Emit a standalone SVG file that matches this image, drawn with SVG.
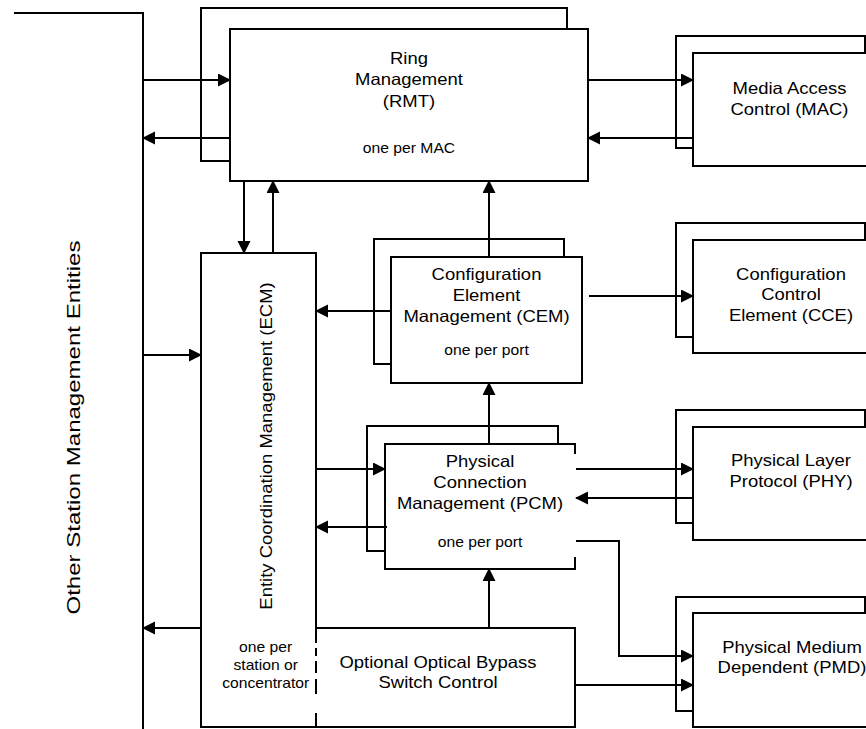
<svg xmlns="http://www.w3.org/2000/svg" width="866" height="729" viewBox="0 0 866 729">
<defs>
<style>
.ln{fill:none;stroke:#000;stroke-width:2}
.bx{fill:#fff;stroke:#000;stroke-width:2}
.wf{fill:#fff;stroke:none}
.t{font-family:"Liberation Sans",Arial,Helvetica,sans-serif;font-size:16.5px;fill:#000;text-anchor:middle}
.s{font-size:14px}
.big{font-size:18.5px}
.ar{fill:none;stroke:#000;stroke-width:2;marker-end:url(#ah)}
</style>
<marker id="ah" markerUnits="userSpaceOnUse" markerWidth="14" markerHeight="14" refX="12" refY="6.5" orient="auto">
<path d="M0,0 L13,6.5 L0,13 z" fill="#000"/>
</marker>
</defs>
<rect width="866" height="729" fill="#fff"/>

<g id="other-entities">
<path class="ln" d="M14 13 H143 V729"/>
<text class="t big" transform="translate(80 427.5) rotate(-90) scale(1.3 1)">Other Station Management Entities</text>
</g>

<g id="rmt">
<rect class="bx" x="201" y="8" width="366" height="153"/>
<rect class="bx" x="230" y="29" width="358" height="152"/>
<text class="t" transform="translate(409 0) scale(1.12 1)"><tspan x="0" y="64">Ring</tspan><tspan x="0" y="85.5">Management</tspan><tspan x="0" y="107">(RMT)</tspan></text>
<text class="t s" transform="translate(409 153) scale(1.12 1)">one per MAC</text>
</g>

<g id="mac">
<rect class="bx" x="676" y="36" width="189" height="112"/>
<rect class="bx" x="693" y="53" width="180" height="113"/>
<text class="t" transform="translate(789.5 0) scale(1.12 1)"><tspan x="0" y="94">Media Access</tspan><tspan x="0" y="115">Control (MAC)</tspan></text>
</g>

<g id="ecm">
<path class="ln" d="M316 643 V253 H201 V727 H316"/>
<path class="ln" d="M316 648 V656 M316 661 V673 M316 679 V694 M316 713 V727"/>
<text class="t" transform="translate(272 446) rotate(-90) scale(1.12 1)">Entity Coordination Management (ECM)</text>
<text class="t s" transform="translate(265.7 0) scale(1.12 1)"><tspan x="0" y="652">one per</tspan><tspan x="0" y="670">station or</tspan><tspan x="0" y="688">concentrator</tspan></text>
</g>

<g id="cem">
<rect class="bx" x="374" y="239" width="190" height="125"/>
<rect class="bx" x="391" y="257" width="191" height="126"/>
<text class="t" transform="translate(486.5 0) scale(1.12 1)"><tspan x="0" y="280">Configuration</tspan><tspan x="0" y="301">Element</tspan><tspan x="0" y="322">Management (CEM)</tspan></text>
<text class="t s" transform="translate(486.5 355) scale(1.12 1)">one per port</text>
</g>

<g id="cce">
<rect class="bx" x="676" y="223" width="189" height="114"/>
<rect class="bx" x="693" y="240" width="180" height="113"/>
<text class="t" transform="translate(791 0) scale(1.12 1)"><tspan x="0" y="280">Configuration</tspan><tspan x="0" y="300.5">Control</tspan><tspan x="0" y="321">Element (CCE)</tspan></text>
</g>

<g id="pcm">
<rect class="bx" x="367" y="426" width="191" height="125"/>
<rect class="wf" x="385" y="444" width="190" height="125"/>
<path class="ln" d="M575 454 V444 H385 V569 H575 V557"/>
<text class="t" transform="translate(480 0) scale(1.12 1)"><tspan x="0" y="467">Physical</tspan><tspan x="0" y="488">Connection</tspan><tspan x="0" y="509">Management (PCM)</tspan></text>
<text class="t s" transform="translate(480 547) scale(1.12 1)">one per port</text>
</g>

<g id="phy">
<rect class="bx" x="676" y="410" width="189" height="113"/>
<rect class="bx" x="693" y="427" width="180" height="113"/>
<text class="t" transform="translate(791 0) scale(1.12 1)"><tspan x="0" y="466">Physical Layer</tspan><tspan x="0" y="487">Protocol (PHY)</tspan></text>
</g>

<g id="bypass">
<path class="ln" d="M316 628 H575 V727 H316"/>
<text class="t" transform="translate(438 0) scale(1.12 1)"><tspan x="0" y="668">Optional Optical Bypass</tspan><tspan x="0" y="688">Switch Control</tspan></text>
</g>

<g id="pmd">
<rect class="bx" x="676" y="597" width="189" height="114"/>
<rect class="bx" x="693" y="613" width="180" height="114"/>
<text class="t" transform="translate(792 0) scale(1.12 1)"><tspan x="0" y="653">Physical Medium</tspan><tspan x="0" y="673">Dependent (PMD)</tspan></text>
</g>

<g id="connectors">
<path class="ar" d="M143 80 H230"/>
<path class="ar" d="M230 138 H143"/>
<path class="ar" d="M588 80 H693"/>
<path class="ar" d="M693 138 H588"/>
<path class="ar" d="M244 182 V253"/>
<path class="ar" d="M273 253 V181"/>
<path class="ar" d="M489 257 V181"/>
<path class="ar" d="M391 311 H316"/>
<path class="ar" d="M589 296 H693"/>
<path class="ar" d="M143 355 H201"/>
<path class="ar" d="M316 469 H385"/>
<path class="ar" d="M387 527 H316"/>
<path class="ar" d="M489 444 V383"/>
<path class="ar" d="M576 469 H693"/>
<path class="ar" d="M693 498 H576"/>
<path class="ar" d="M576 541 H619 V656 H693"/>
<path class="ar" d="M489 628 V569"/>
<path class="ar" d="M201 628 H143"/>
<path class="ar" d="M575 685 H693"/>
</g>
</svg>
